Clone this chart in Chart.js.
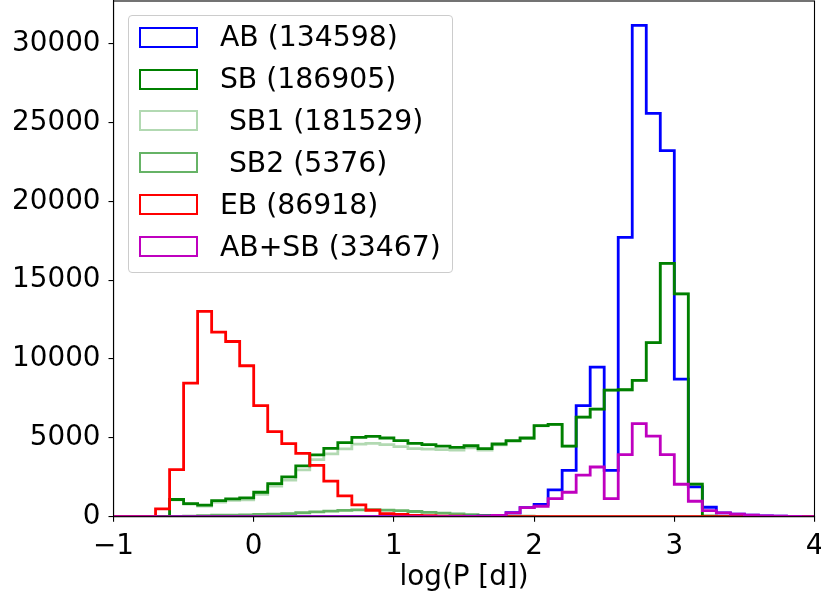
<!DOCTYPE html>
<html><head><meta charset="utf-8">
<script src="https://cdn.jsdelivr.net/npm/chart.js@4.4.1/dist/chart.umd.min.js"></script>
<style>
html,body{margin:0;padding:0;background:#fff;}
#wrap{position:relative;width:821px;height:599px;overflow:hidden;}
#legend{position:absolute;left:128.3px;top:15px;width:325px;height:258.3px;box-sizing:border-box;border:1.1px solid #cccccc;border-radius:4px;background:rgba(255,255,255,0.8);font-family:'DejaVu Sans';font-size:28.3px;color:#000;}
.sw{position:absolute;box-sizing:border-box;width:58.7px;height:21px;border-style:solid;border-width:2.8px;}
.lb{position:absolute;white-space:pre;line-height:32.94px;}
</style></head>
<body><div id="wrap"><canvas id="c" width="821" height="599"></canvas><div id="legend"></div></div>
<script>
const binEdges = [-1.0,-0.9,-0.8,-0.7,-0.6,-0.5,-0.4,-0.3,-0.2,-0.1,0.0,0.1,0.2,0.3,0.4,0.5,0.6,0.7,0.8,0.9,1.0,1.1,1.2,1.3,1.4,1.5,1.6,1.7,1.8,1.9,2.0,2.1,2.2,2.3,2.4,2.5,2.6,2.7,2.8,2.9,3.0,3.1,3.2,3.3,3.4,3.5,3.6,3.7,3.8,3.9,4.0];
const xTicks = [-1, 0, 1, 2, 3, 4];
const yTicks = [0, 5000, 10000, 15000, 20000, 25000, 30000];
const labels = ['AB (134598)', 'SB (186905)', ' SB1 (181529)', ' SB2 (5376)', 'EB (86918)', 'AB+SB (33467)'];

const AB = [0,0,0,0,0,0,0,0,0,0, 0,0,0,0,0,0,0,0,0,0, 0,0,10,15,20,30,50,90,250,580, 780,1700,2940,7040,9480,2940,17710,31150,25580,23215, 8720,1890,600,240,160,95,50,30,15,8];
const SB = [0,0,0,20,1090,835,730,1020,1130,1190, 1550,2100,2520,3220,3920,4330,4700,5030,5095,4990, 4820,4650,4570,4480,4400,4500,4320,4610,4820,4990, 5780,5850,4480,6320,6820,8030,8050,8640,11040,16060, 14130,2060,30,10,0,0,0,0,0,0];
const SB1 = [0,0,0,15,1070,795,670,920,1030,1070, 1410,1940,2320,2970,3620,3980,4300,4600,4645,4570, 4440,4320,4290,4250,4220,4370,4230,4550,4780,4960, 5760,5840,4475,6320,6820,8030,8050,8640,11040,16060, 14130,2060,30,10,0,0,0,0,0,0];
const SB2 = [0,0,0,5,20,40,60,100,100,120, 140,160,200,250,300,350,400,430,450,420, 380,330,280,230,180,130,90,60,40,30, 20,10,5,0,0,0,0,0,0,0, 0,0,0,0,0,0,0,0,0,0];
const EB = [0,0,0,500,2990,8470,13025,11700,11110,9570, 7040,5390,4630,4020,3250,2260,1320,750,410,200, 140,90,60,40,30,20,15,10,8,5, 4,3,2,2,1,0,0,0,0,0, 0,0,0,0,0,0,0,0,0,0];
const ABSB = [0,0,0,0,0,0,0,0,0,0, 0,0,0,0,0,0,0,0,0,0, 0,0,5,10,15,20,40,80,240,580, 664,1150,1550,2630,3150,1150,3940,5900,5115,3940, 2057,980,380,240,158,95,50,30,15,8];

const colors = ['#0000ff', '#008000', 'rgba(0,128,0,0.3)', 'rgba(0,128,0,0.6)', '#ff0000', '#bf00bf'];
const series = [AB, SB, SB1, SB2, EB, ABSB];

function stepOutline(values) {
  const pts = [{x: binEdges[0], y: 0}];
  values.forEach((v, i) => {
    pts.push({x: binEdges[i], y: v});
    pts.push({x: binEdges[i + 1], y: v});
  });
  pts.push({x: binEdges[binEdges.length - 1], y: 0});
  return pts;
}

const FONT = 'DejaVu Sans';
const datasets = series.map((vals, k) => ({
  label: labels[k],
  data: stepOutline(vals),
  borderColor: colors[k],
  backgroundColor: 'transparent',
  borderWidth: 2.8,
  pointRadius: 0,
  pointHoverRadius: 0,
  fill: false,
  tension: 0,
  clip: 0,
  borderJoinStyle: 'miter',
  borderCapStyle: 'butt',
  order: series.length - k
}));

const framePlugin = {
  id: 'frame',
  afterDatasetsDraw(chart) {
    const {ctx, chartArea: a} = chart;
    ctx.save();
    ctx.strokeStyle = '#000';
    ctx.lineWidth = 1.1;
    ctx.strokeRect(a.left, a.top, a.right - a.left, a.bottom - a.top);
    ctx.restore();
  }
};

const fmtX = v => (v < 0 ? '\u2212' + Math.abs(v) : String(v));

const chart = new Chart(document.getElementById('c'), {
  type: 'line',
  data: {datasets},
  options: {
    responsive: false,
    devicePixelRatio: 1,
    animation: false,
    events: [],
    layout: {padding: {left: 0, top: 1, right: 6.5, bottom: 0}},
    plugins: {legend: {display: false}, tooltip: {enabled: false}, title: {display: false}},
    scales: {
      x: {
        type: 'linear', min: -1, max: 4,
        afterBuildTicks: s => { s.ticks = xTicks.map(v => ({value: v})); },
        afterFit: s => { s.height = 82.3; s.paddingLeft = 0; s.paddingRight = 0; },
        ticks: {callback: fmtX, color: '#000', padding: 8, maxRotation: 0, autoSkip: false, font: {family: FONT, size: 27.8}},
        grid: {display: true, drawOnChartArea: false, drawTicks: true, tickLength: 5, color: '#000', lineWidth: 1.1},
        border: {display: true, color: '#000', width: 1.1},
        title: {display: true, text: 'log(P [d])', color: '#000', font: {family: FONT, size: 27.8, lineHeight: 1.2}, padding: {top: 0, bottom: 5}}
      },
      y: {
        type: 'linear', min: 0, max: 32700,
        afterBuildTicks: s => { s.ticks = yTicks.map(v => ({value: v})); },
        afterFit: s => { s.width = 113.5; s.paddingTop = 0; s.paddingBottom = 0; },
        ticks: {callback: v => String(v), color: '#000', padding: 8, autoSkip: false, font: {family: FONT, size: 27.8}},
        grid: {display: true, drawOnChartArea: false, drawTicks: true, tickLength: 5, color: '#000', lineWidth: 1.1},
        border: {display: true, color: '#000', width: 1.1}
      }
    }
  },
  plugins: [framePlugin]
});

// HTML legend built from the chart's datasets
const legend = document.getElementById('legend');
chart.data.datasets.forEach((ds, i) => {
  const c = 22.25 - 1.1 + 41.9 * i;
  const sw = document.createElement('div');
  sw.className = 'sw';
  sw.style.left = (10.7 - 1.1) + 'px';
  sw.style.top = (c - 10.5) + 'px';
  sw.style.borderColor = ds.borderColor;
  legend.appendChild(sw);
  const lb = document.createElement('div');
  lb.className = 'lb';
  lb.style.left = (91.7 - 1.1) + 'px';
  lb.style.top = (c - 15.9) + 'px';
  lb.textContent = ds.label;
  legend.appendChild(lb);
});
</script>
</body></html>
